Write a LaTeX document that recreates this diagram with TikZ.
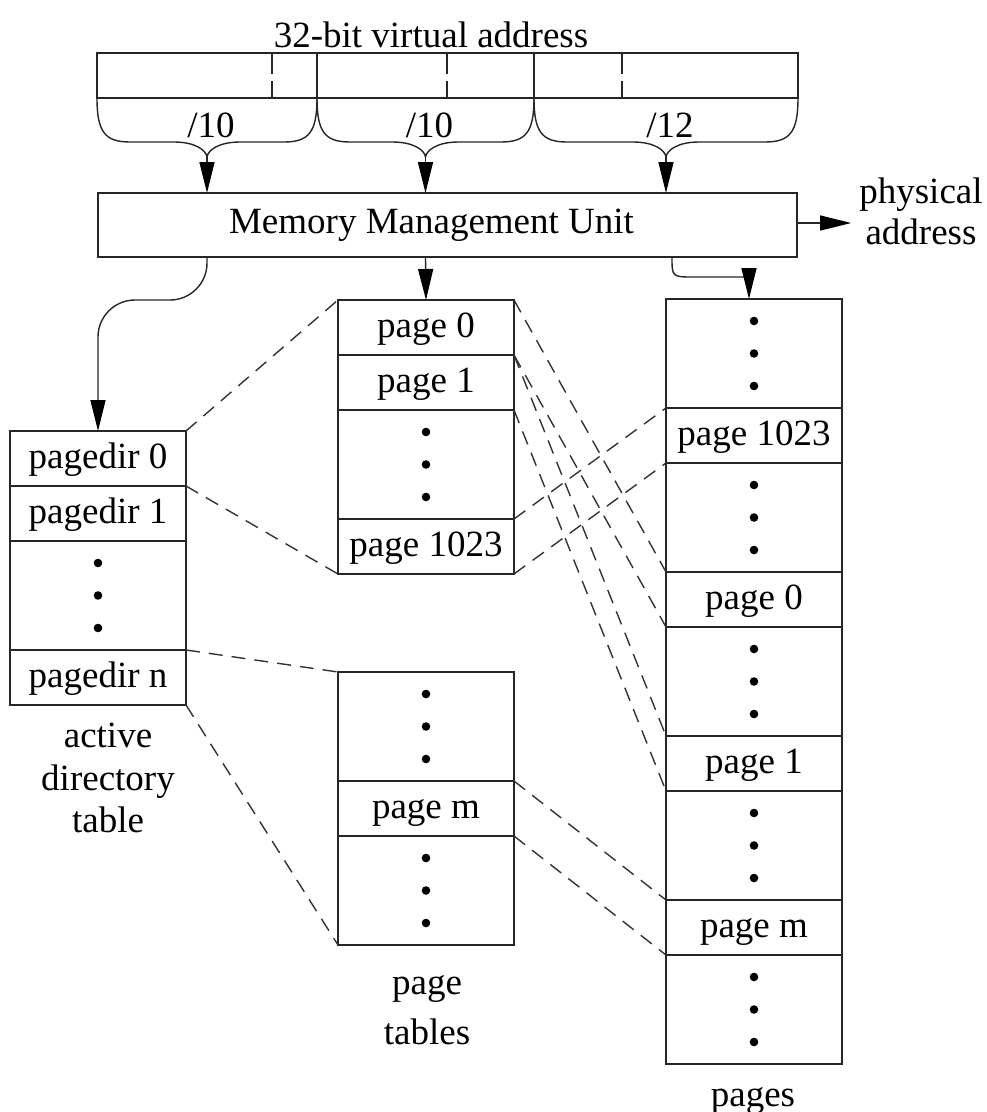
\documentclass[tikz,border=0pt]{standalone}
\usepackage{fontspec}
\setmainfont{Liberation Serif}
\usetikzlibrary{positioning,arrows.meta,calc}

\tikzset{
  box/.style={draw=black!85, line width=1.4pt, inner sep=0pt, outer sep=0pt},
  cell/.style={box, minimum width=176pt, minimum height=55pt, text height=27pt, text depth=7.5pt},
  dotcell/.style={cell, minimum height=109pt},
  link/.style={draw=black!80, line width=1.4pt, dash pattern=on 14pt off 9pt},
  arr/.style={draw=black!85, line width=1.4pt, -{Triangle[length=31pt,width=15pt,color=black]}},
  lbl/.style={inner sep=0pt, align=center},
}

\begin{document}
\begin{tikzpicture}[x=1pt,y=-1pt,font=\fontsize{37}{44}\selectfont]
  \useasboundingbox (0,0) rectangle (987,1112);

  % virtual address and the MMU
  \node[lbl, anchor=base] (title) at (431,47) {32-bit virtual address};
  \node[box, minimum width=699pt, minimum height=64pt, anchor=north west,
        label={[name=mmutext, xshift=-16pt]center:Memory Management Unit}] (mmu) at (98,193) {};
  \foreach \s/\l/\r/\d/\bits in {A/97/317/175/10, B/317/534/130/10, C/534/798/88/12}{
    \pgfmathsetmacro\w{\r-\l}
    \pgfmathsetmacro\m{(\l+\r)/2}
    \node[box, minimum width=\w pt, minimum height=45pt, anchor=north west] (addr\s) at (\l,53) {};
    \draw[draw=black!85, line width=1.2pt, dash pattern=on 21pt off 7pt]
      ([xshift=\d pt]addr\s.north west) -- ([xshift=\d pt]addr\s.south west);
    \draw[draw=black!85, line width=1.4pt] (addr\s.south west)
      .. controls (\l,132) and (\l+8,142) .. (\l+33,142) -- (\m-33,142)
      .. controls (\m-12,142) and (\m-1,150) .. (\m,157) coordinate (tip\s)
      .. controls (\m+1,150) and (\m+12,142) .. (\m+33,142) -- (\r-33,142)
      .. controls (\r-8,142) and (\r,132) .. (addr\s.south east);
    \node[lbl, anchor=base] (bits\s) at (\m+4,137) {/\bits};
    \draw[arr] (tip\s) -- (tip\s |- mmu.north);
  }
  \node[lbl, font=\fontsize{37}{41}\selectfont] (phys) at (921,211) {physical\\address};
  \draw[arr] ([yshift=2pt]mmu.east) -- ([xshift=-8pt,yshift=2pt]phys.west |- mmu.east);

  % active directory table
  \node[cell, anchor=north west] (pd0) at (10,431) {pagedir 0};
  \node[cell, below=0pt of pd0] (pd1) {pagedir 1};
  \node[dotcell, below=0pt of pd1] (pdd) {};
  \node[cell, below=0pt of pdd] (pdn) {pagedir n};
  \node[lbl, anchor=north, font=\fontsize{37}{42.5}\selectfont] (adtlabel) at (108,723) {active\\directory\\table};

  % page tables
  \node[cell, anchor=north west] (pt0) at (338,300) {page 0};
  \node[cell, below=0pt of pt0] (pt1) {page 1};
  \node[dotcell, below=0pt of pt1] (ptd) {};
  \node[cell, below=0pt of ptd] (pt1023) {page 1023};
  \node[dotcell, anchor=north west] (qd1) at (338,672) {};
  \node[cell, below=0pt of qd1] (ptm) {page m};
  \node[dotcell, below=0pt of ptm] (qd2) {};
  \node[lbl, anchor=north, font=\fontsize{37}{50}\selectfont] (ptlabel) at (427,975) {page\\tables};

  % pages
  \node[dotcell, anchor=north west] (pgd1) at (666,299) {};
  \node[cell, below=0pt of pgd1] (pg1023) {page 1023};
  \node[dotcell, below=0pt of pg1023] (pgd2) {};
  \node[cell, below=0pt of pgd2] (pg0) {page 0};
  \node[dotcell, below=0pt of pg0] (pgd3) {};
  \node[cell, below=0pt of pgd3] (pg1) {page 1};
  \node[dotcell, below=0pt of pg1] (pgd4) {};
  \node[cell, below=0pt of pgd4] (pgm) {page m};
  \node[dotcell, below=0pt of pgm] (pgd5) {};
  \node[lbl, anchor=base] (pglabel) at (753,1106) {pages};

  \foreach \c in {pdd,ptd,qd1,qd2,pgd1,pgd2,pgd3,pgd4,pgd5}
    \foreach \k in {-1,0,1}
      \fill (\c.center) ++(0,\k*32.5) circle (4.3pt);

  % MMU outputs
  \draw[arr, rounded corners=37pt] (tipA |- mmu.south) |- (pd0.north |- pt0.north) -- (pd0.north);
  \draw[arr] (tipB |- mmu.south) -- (pt0.north);
  \draw[arr] ([xshift=6pt]tipC |- mmu.south) .. controls +(0,20) .. ++(22,20) -| ([xshift=-5pt]pgd1.north);

  % dashed mappings
  \draw[link] (pd0.north east) -- (pt0.north west);
  \draw[link] (pd0.south east) -- (pt1023.south west);
  \draw[link] (pdn.north east) -- (qd1.north west);
  \draw[link] (pdn.south east) -- (qd2.south west);
  \foreach \a/\b in {pt0/pg0, pt1/pg1, pt1023/pg1023, ptm/pgm}{
    \draw[link] (\a.north east) -- (\b.north west);
    \draw[link] (\a.south east) -- (\b.south west);
  }
\end{tikzpicture}
\end{document}
